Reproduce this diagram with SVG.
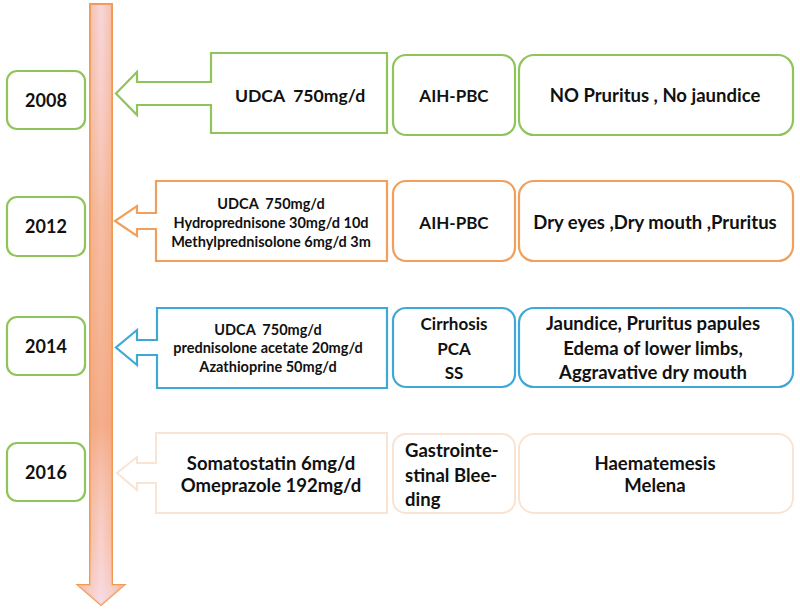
<svg xmlns="http://www.w3.org/2000/svg" width="800" height="609" viewBox="0 0 800 609">
<defs>
<linearGradient id="tlh" x1="0" y1="0" x2="1" y2="0">
<stop offset="0" stop-color="#f5a262"/>
<stop offset="0.5" stop-color="#f8d8e4"/>
<stop offset="1" stop-color="#f5a262"/>
</linearGradient>
<linearGradient id="tlv" x1="0" y1="0" x2="0" y2="1">
<stop offset="0" stop-color="#f5c8a8" stop-opacity="0.1"/>
<stop offset="0.35" stop-color="#f4a46c" stop-opacity="0.5"/>
<stop offset="0.7" stop-color="#f3a070" stop-opacity="0.75"/>
<stop offset="0.88" stop-color="#f7c0a0" stop-opacity="0.35"/>
<stop offset="1" stop-color="#f8e0ee" stop-opacity="0.6"/>
</linearGradient>
<style>
text{font-family:Lato,"Open Sans","Liberation Sans",sans-serif;font-weight:bold;fill:#111;text-anchor:middle;dominant-baseline:central}
.yr{fill:#fff;stroke:#8fc45a;stroke-width:2.2}
.g{fill:#fff;stroke:#8fc45a;stroke-width:2.2}
.o{fill:#fff;stroke:#f0a05c;stroke-width:2.2}
.b{fill:#fff;stroke:#3fa8d6;stroke-width:2.2}
.f{fill:#fff;stroke:#f9e4d4;stroke-width:2}
.t18{font-size:18.5px}
.ty{font-size:18px}
.t17{font-size:17px}
.t14{font-size:14.5px}
</style>
</defs>
<rect width="800" height="609" fill="#fff"/>

<g id="timeline">
<path d="M90,4 L112,4 L112,585 L124,585 L101,605 L78,585 L90,585 Z" fill="url(#tlh)" stroke="#f09a58" stroke-width="2"/>
<path d="M90,4 L112,4 L112,585 L124,585 L101,605 L78,585 L90,585 Z" fill="url(#tlv)" stroke="none"/>
</g>

<g id="year-2008"><rect class="yr" x="7" y="71" width="78" height="58" rx="10"/><text class="ty" x="46" y="100">2008</text></g>
<g id="year-2012"><rect class="yr" x="7" y="197" width="78" height="59" rx="10"/><text class="ty" x="46" y="226">2012</text></g>
<g id="year-2014"><rect class="yr" x="7" y="317" width="78" height="58" rx="10"/><text class="ty" x="46" y="346">2014</text></g>
<g id="year-2016"><rect class="yr" x="7" y="443" width="78" height="58" rx="10"/><text class="ty" x="46" y="472">2016</text></g>

<g id="connectors">
<g id="treat-2008">
<path class="g" d="M387,53 L211,53 L211,82 L137,82 L137,72 L116,93.5 L137,115 L137,105 L211,105 L211,133 L387,133 Z"/>
<text style="font-size:17.6px" x="300" y="95" xml:space="preserve">UDCA  750mg/d</text>
</g>
<g id="treat-2012">
<path class="o" d="M387,181 L156,181 L156,213 L137,213 L137,206 L115,221 L137,236 L137,229 L156,229 L156,261 L387,261 Z"/>
<text class="t14" x="271" y="203" xml:space="preserve">UDCA  750mg/d</text>
<text class="t14" x="271" y="222">Hydroprednisone 30mg/d 10d</text>
<text class="t14" x="271" y="241">Methylprednisolone 6mg/d 3m</text>
</g>
<g id="treat-2014">
<path class="b" d="M387,308 L157,308 L157,340 L137,340 L137,330 L116,347.5 L137,365 L137,355 L157,355 L157,388 L387,388 Z"/>
<text class="t14" x="268" y="329" xml:space="preserve">UDCA  750mg/d</text>
<text class="t14" x="268" y="347">prednisolone acetate 20mg/d</text>
<text class="t14" x="268" y="366">Azathioprine 50mg/d</text>
</g>
<g id="treat-2016">
<path class="f" d="M387,433 L156,433 L156,463 L137,463 L137,457 L117,473 L137,490 L137,483 L156,483 L156,513 L387,513 Z"/>
<text class="t18" x="271" y="463">Somatostatin 6mg/d</text>
<text class="t18" x="271" y="485">Omeprazole 192mg/d</text>
</g>
</g>

<g id="dx-2008"><rect class="g" x="393" y="55" width="122" height="80" rx="13"/><text class="t17" x="454" y="95">AIH-PBC</text></g>
<g id="sx-2008"><rect class="g" x="519" y="55" width="274" height="80" rx="15"/><text class="t18" x="655" y="95">NO Pruritus , No jaundice</text></g>

<g id="dx-2012"><rect class="o" x="393" y="181" width="122" height="80" rx="13"/><text class="t17" x="454" y="222">AIH-PBC</text></g>
<g id="sx-2012"><rect class="o" x="519" y="181" width="274" height="80" rx="15"/><text class="t18" x="655" y="222">Dry eyes ,Dry mouth ,Pruritus</text></g>

<g id="dx-2014"><rect class="b" x="393" y="308" width="122" height="79" rx="13"/>
<text class="t17" x="454" y="323">Cirrhosis</text><text class="t17" x="454" y="348">PCA</text><text class="t17" x="454" y="372">SS</text></g>
<g id="sx-2014"><rect class="b" x="519" y="308" width="274" height="79" rx="15"/>
<text class="t18" x="653" y="323">Jaundice, Pruritus papules</text><text class="t18" x="653" y="348">Edema of lower limbs,</text><text class="t18" x="653" y="372">Aggravative dry mouth</text></g>

<g id="dx-2016"><rect class="f" x="393" y="434" width="122" height="79" rx="13"/>
<text class="t18" x="405" y="450" style="text-anchor:start">Gastrointe-</text><text class="t18" x="405" y="475" style="text-anchor:start">stinal Blee-</text><text class="t18" x="405" y="499" style="text-anchor:start">ding</text></g>
<g id="sx-2016"><rect class="f" x="519" y="434" width="274" height="79" rx="15"/>
<text class="t18" x="655" y="463">Haematemesis</text><text class="t18" x="655" y="485">Melena</text></g>
</svg>
